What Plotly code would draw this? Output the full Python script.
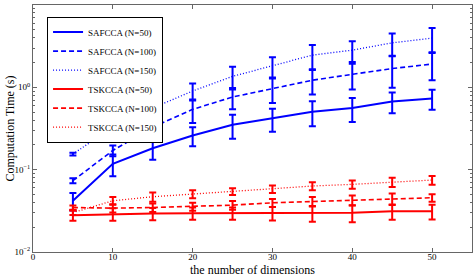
import plotly.graph_objects as go

dims = [5, 10, 15, 20, 25, 30, 35, 40, 45, 50]

saf50 = [0.042, 0.118, 0.182, 0.260, 0.351, 0.419, 0.506, 0.560, 0.675, 0.734]
saf50_err = [0.010, 0.035, 0.050, 0.068, 0.113, 0.13, 0.17, 0.18, 0.19, 0.20]
saf100 = [0.0734, 0.171, 0.328, 0.540, 0.762, 0.964, 1.22, 1.44, 1.69, 1.92]
saf100_err = [0.005, 0.025, 0.075, 0.17, 0.22, 0.32, 0.40, 0.50, 0.70, 0.70]
saf150 = [0.155, 0.328, 0.560, 0.902, 1.36, 1.82, 2.46, 2.83, 3.47, 3.96]
saf150_err = [0.006, 0.016, 0.135, 0.21, 0.42, 0.50, 0.80, 0.80, 1.05, 1.30]

tsk50 = [0.0280, 0.0289, 0.0293, 0.0296, 0.0296, 0.0297, 0.0298, 0.0300, 0.0312, 0.0312]
tsk50_err = [0.004, 0.005, 0.005, 0.005, 0.005, 0.0055, 0.0065, 0.007, 0.0065, 0.0063]
tsk100 = [0.0347, 0.0341, 0.0347, 0.0357, 0.0371, 0.0396, 0.0411, 0.0427, 0.0443, 0.0456]
tsk100_err = [0.002, 0.004, 0.004, 0.004, 0.0045, 0.0045, 0.0055, 0.006, 0.007, 0.0048]
tsk150 = [0.0301, 0.0419, 0.0469, 0.0506, 0.0544, 0.0582, 0.0633, 0.0663, 0.0708, 0.0748]
tsk150_err = [0.002, 0.0045, 0.006, 0.0055, 0.005, 0.006, 0.007, 0.0075, 0.009, 0.009]

names = ["SAFCCA (N=50)", "SAFCCA (N=100)", "SAFCCA (N=150)",
         "TSKCCA (N=50)", "TSKCCA (N=100)", "TSKCCA (N=150)"]
series = [saf50, saf100, saf150, tsk50, tsk100, tsk150]
errors = [saf50_err, saf100_err, saf150_err, tsk50_err, tsk100_err, tsk150_err]
colors = ["#0000FF"] * 3 + ["#FF0000"] * 3
dashes = ["solid", "5px,3px", "1px,2px"] * 2
widths = [2, 1.6, 1.3] * 2

x_title = "the number of dimensions"
y_title = "Computation Time (s)"

SERIF = "Liberation Serif, Times New Roman, serif"

fig = go.Figure()
for nm, ys, er, c, d, w in zip(names, series, errors, colors, dashes, widths):
    fig.add_trace(go.Scatter(
        x=dims, y=ys, name=nm, mode="lines",
        line=dict(color=c, dash=d, width=w),
        error_y=dict(type="data", array=er, visible=True, color=c,
                     thickness=2, width=3.5),
    ))

minor_vals = [m * 10 ** e for e in (-2, -1, 0) for m in range(2, 10)]

fig.update_layout(
    width=473, height=276,
    margin=dict(l=33, r=1, t=5, b=24, autoexpand=False),
    plot_bgcolor="white", paper_bgcolor="white",
    font=dict(family=SERIF, size=9, color="black"),
    showlegend=True,
    legend=dict(x=0.032, y=0.953, xanchor="left", yanchor="top",
                bgcolor="white", bordercolor="black", borderwidth=1,
                font=dict(family=SERIF, size=9), tracegroupgap=0,
                itemwidth=30),
    xaxis=dict(range=[0, 55], tickvals=[0, 10, 20, 30, 40, 50],
               ticks="inside", ticklen=4, tickcolor="#666", automargin=False,
               ticklabelstandoff=-4,
               showline=True, linecolor="#666", linewidth=1, mirror="allticks",
               showgrid=False, zeroline=False,
               tickfont=dict(family=SERIF, size=9)),
    yaxis=dict(type="log", range=[-2, 1], automargin=False,
               tickvals=[0.01, 0.1, 1, 10],
               ticktext=["10<sup>−2</sup>", "10<sup>−1</sup>", "10<sup>0</sup>", "10<sup>1</sup>"],
               ticks="inside", ticklen=4, tickcolor="#666",
               minor=dict(tickvals=minor_vals, ticks="inside", ticklen=2,
                          tickcolor="#666", showgrid=False),
               showline=True, linecolor="#666", linewidth=1, mirror="allticks",
               showgrid=False, zeroline=False,
               tickfont=dict(family=SERIF, size=9)),
    annotations=[
        dict(text=x_title, xref="paper", yref="paper", x=0.5, y=0,
             xanchor="center", yanchor="top", yshift=-9, showarrow=False,
             font=dict(family=SERIF, size=12)),
        dict(text=y_title, xref="paper", yref="paper", x=0, y=0.5,
             xanchor="center", yanchor="middle", xshift=-24, textangle=-90,
             showarrow=False, font=dict(family=SERIF, size=12)),
    ],
)

fig.write_html("out.html", config={"displayModeBar": False},
               post_script="document.body.style.margin='0';document.body.style.padding='0';")
